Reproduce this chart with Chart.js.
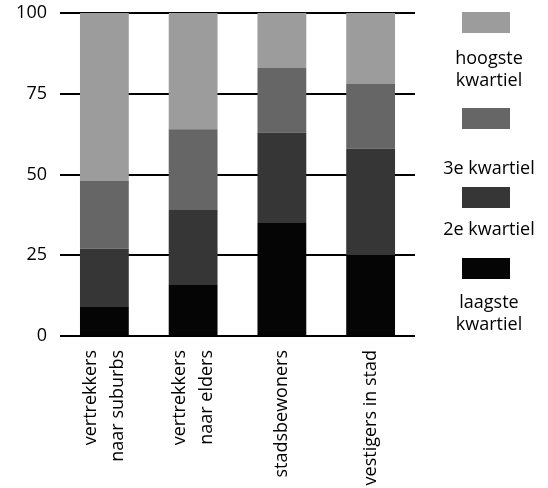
<!DOCTYPE html>
<html><head><meta charset="utf-8">
<script src="https://cdn.jsdelivr.net/npm/chart.js@4"></script>
<style>
html,body{margin:0;padding:0;background:#fff;overflow:hidden;}
#wrap{position:relative;width:548px;height:488px;overflow:hidden;}
canvas{position:absolute;left:0;top:0;}
#legend{position:absolute;left:430px;top:0;width:118px;height:488px;font-family:"Open Sans";font-size:18px;color:#000;}
.sw{position:absolute;left:32px;width:48px;height:21px;}
.lb{position:absolute;left:-6px;width:130px;text-align:center;line-height:22px;white-space:nowrap;}
</style></head>
<body><div id="wrap"><canvas id="c" width="548" height="488"></canvas><div id="legend"></div></div>
<script>
const categories = [["vertrekkers","naar suburbs"],["vertrekkers","naar elders"],"stadsbewoners","vestigers in stad"];
const seriesNames = [["laagste","kwartiel"],["2e kwartiel"],["3e kwartiel"],["hoogste","kwartiel"]];
const laagste = [9,16,35,25];
const tweede = [18,23,28,33];
const derde = [21,25,20,20];
const hoogste = [52,36,17,22];
const yTicks = [0,25,50,75,100];
const colors = ['#050505','#363636','#666666','#9c9c9c'];
const seriesValues = [laagste,tweede,derde,hoogste];

const LH = 27;
const centerLines = {
  id:'centerLines',
  beforeDraw(chart){
    const s = chart.scales.x;
    const items = s.getLabelItems();
    items.forEach(it=>{
      if (it._shifted) return;
      const n = Array.isArray(it.label) ? it.label.length : 1;
      it.options.translation[0] -= (n-1)*LH/2;
      it._shifted = true;
    });
  }
};

const font = {family:'Open Sans', size:18};
new Chart(document.getElementById('c'), {
  type:'bar',
  data:{
    labels:categories,
    datasets:seriesValues.map((v,i)=>({label:seriesNames[i].join(' '), data:v, backgroundColor:colors[i], barPercentage:0.55, categoryPercentage:1}))
  },
  options:{
    responsive:false, animation:false,
    layout:{padding:{top:13,right:133,left:0,bottom:0}},
    plugins:{legend:{display:false},tooltip:{enabled:false}},
    scales:{
      x:{stacked:true, grid:{display:false}, border:{display:false},
         ticks:{color:'#000', font:{family:'Open Sans', size:18, lineHeight:LH/18}, maxRotation:90, minRotation:90, padding:6, autoSkip:false},
         afterFit(s){s.height=152;}},
      y:{stacked:true, min:0, max:100,
         afterBuildTicks(s){s.ticks=yTicks.map(v=>({value:v}));},
         grid:{color:'#000', lineWidth:2, drawTicks:false}, border:{display:false},
         ticks:{color:'#000', font:font, padding:13},
         afterFit(s){s.width=60; s.paddingTop=0; s.paddingBottom=0;}}
    }
  },
  plugins:[centerLines]
});

// legend (top to bottom: hoogste ... laagste)
const swTops = [12,108,187,258];
const lbTops = [46,156,217,290];
const leg = document.getElementById('legend');
[3,2,1,0].forEach((si,k)=>{
  const sw=document.createElement('div'); sw.className='sw'; sw.style.top=swTops[k]+'px'; sw.style.background=colors[si]; leg.appendChild(sw);
  const lb=document.createElement('div'); lb.className='lb'; lb.style.top=lbTops[k]+'px';
  lb.innerHTML=seriesNames[si].join('<br>'); leg.appendChild(lb);
});
</script></body></html>
